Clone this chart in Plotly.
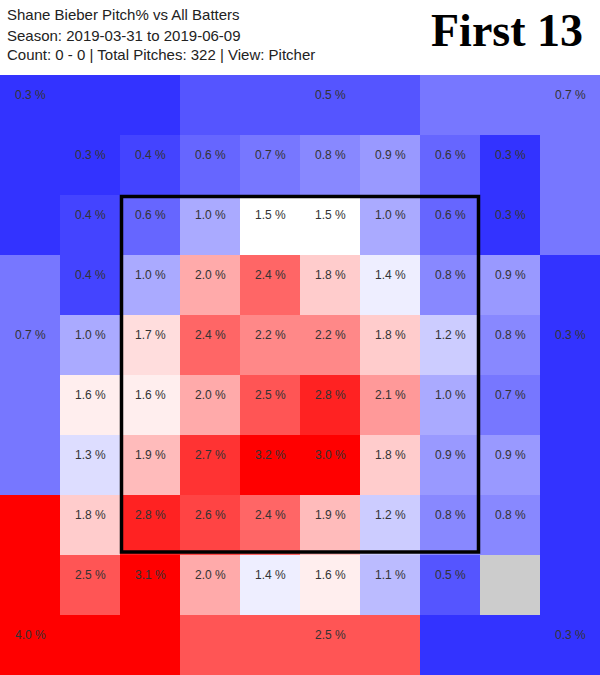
import plotly.graph_objects as go

# ---- data ----
title_lines = [
    "Shane Bieber Pitch% vs All Batters",
    "Season: 2019-03-31 to 2019-06-09",
    "Count: 0 - 0 | Total Pitches: 322 | View: Pitcher",
]
badge = "First 13"

# inner 8x8 zone grid (top row first, left column first), percent of pitches
inner_rows = [
    [0.3, 0.4, 0.6, 0.7, 0.8, 0.9, 0.6, 0.3],
    [0.4, 0.6, 1.0, 1.5, 1.5, 1.0, 0.6, 0.3],
    [0.4, 1.0, 2.0, 2.4, 1.8, 1.4, 0.8, 0.9],
    [1.0, 1.7, 2.4, 2.2, 2.2, 1.8, 1.2, 0.8],
    [1.6, 1.6, 2.0, 2.5, 2.8, 2.1, 1.0, 0.7],
    [1.3, 1.9, 2.7, 3.2, 3.0, 1.8, 0.9, 0.9],
    [1.8, 2.8, 2.6, 2.4, 1.9, 1.2, 0.8, 0.8],
    [2.5, 3.1, 2.0, 1.4, 1.6, 1.1, 0.5, None],
]

# outer zones
outer_names = ["top_left", "top_mid", "top_right", "left_mid",
               "right_mid", "bottom_left", "bottom_mid", "bottom_right"]
outer_values = [0.3, 0.5, 0.7, 0.7, 0.3, 4.0, 2.5, 0.3]

# cells (row, col) of the 10x10 layout that each outer zone covers
outer_cells = {
    "top_left": [(0, 0), (0, 1), (0, 2), (1, 0), (2, 0)],
    "top_mid": [(0, 3), (0, 4), (0, 5), (0, 6)],
    "top_right": [(0, 7), (0, 8), (0, 9), (1, 9), (2, 9)],
    "left_mid": [(3, 0), (4, 0), (5, 0), (6, 0)],
    "right_mid": [(3, 9), (4, 9), (5, 9), (6, 9)],
    "bottom_left": [(7, 0), (8, 0), (9, 0), (9, 1), (9, 2)],
    "bottom_mid": [(9, 3), (9, 4), (9, 5), (9, 6)],
    "bottom_right": [(7, 9), (8, 9), (9, 7), (9, 8), (9, 9)],
}
# cell where each outer zone's label is written
outer_label_cell = {
    "top_left": (0, 0), "top_mid": (0, 5), "top_right": (0, 9),
    "left_mid": (4, 0), "right_mid": (4, 9),
    "bottom_left": (9, 0), "bottom_mid": (9, 5), "bottom_right": (9, 9),
}

# ---- build grid ----
N = 10
z = [[None] * N for _ in range(N)]
for r, row in enumerate(inner_rows):
    for c, v in enumerate(row):
        z[r + 1][c + 1] = v
for name, val in zip(outer_names, outer_values):
    for (r, c) in outer_cells[name]:
        z[r][c] = val

centers = [i + 0.5 for i in range(N)]

fig = go.Figure()
fig.add_trace(go.Heatmap(
    z=z, x=centers, y=centers,
    colorscale=[[0, "rgb(0,0,255)"], [0.5, "rgb(255,255,255)"], [1, "rgb(255,0,0)"]],
    zmin=0, zmax=3.0,
    showscale=False, hoverongaps=False,
    xgap=0, ygap=0,
))

annotations = []
cell_font = dict(family="Liberation Sans, Arial, sans-serif", size=12, color="#333333")
for r, row in enumerate(inner_rows):
    for c, v in enumerate(row):
        if v is None:
            continue
        annotations.append(dict(x=centers[c + 1], y=centers[r + 1], xref="x", yref="y",
                                text=f"{v:.1f} %", showarrow=False, font=cell_font, yshift=10))
for name, val in zip(outer_names, outer_values):
    r, c = outer_label_cell[name]
    annotations.append(dict(x=centers[c], y=centers[r], xref="x", yref="y",
                            text=f"{val:.1f} %", showarrow=False, font=cell_font, yshift=10))

title_font = dict(family="Liberation Sans, Arial, sans-serif", size=15, color="#222222")
for i, line in enumerate(title_lines):
    annotations.append(dict(x=5 / 600, y=1 + (75 - (15 + 20 * i)) / 600, xref="paper", yref="paper",
                            xanchor="left", yanchor="middle", text=line, showarrow=False,
                            font=title_font))
annotations.append(dict(x=585 / 600, y=1 + (75 - 30) / 600, xref="paper", yref="paper",
                        xanchor="right", yanchor="middle", text=f"<b>{badge}</b>", showarrow=False,
                        font=dict(family="Liberation Serif, Times New Roman, serif", size=46,
                                  color="#000000")))

fig.update_layout(
    width=600, height=675,
    margin=dict(l=0, r=0, t=75, b=0, pad=0),
    paper_bgcolor="white", plot_bgcolor="#cccccc",
    annotations=annotations,
    shapes=[dict(type="rect", xref="x", yref="y", x0=2.025, x1=7.975, y0=2.025, y1=7.95,
                 line=dict(color="black", width=3.5))],
    showlegend=False,
)
fig.update_xaxes(range=[0, 10], visible=False, fixedrange=True)
fig.update_yaxes(range=[10, 0], visible=False, fixedrange=True)

fig.write_html("out.html", post_script="document.body.style.margin='0px';",
               config={"displayModeBar": False})
